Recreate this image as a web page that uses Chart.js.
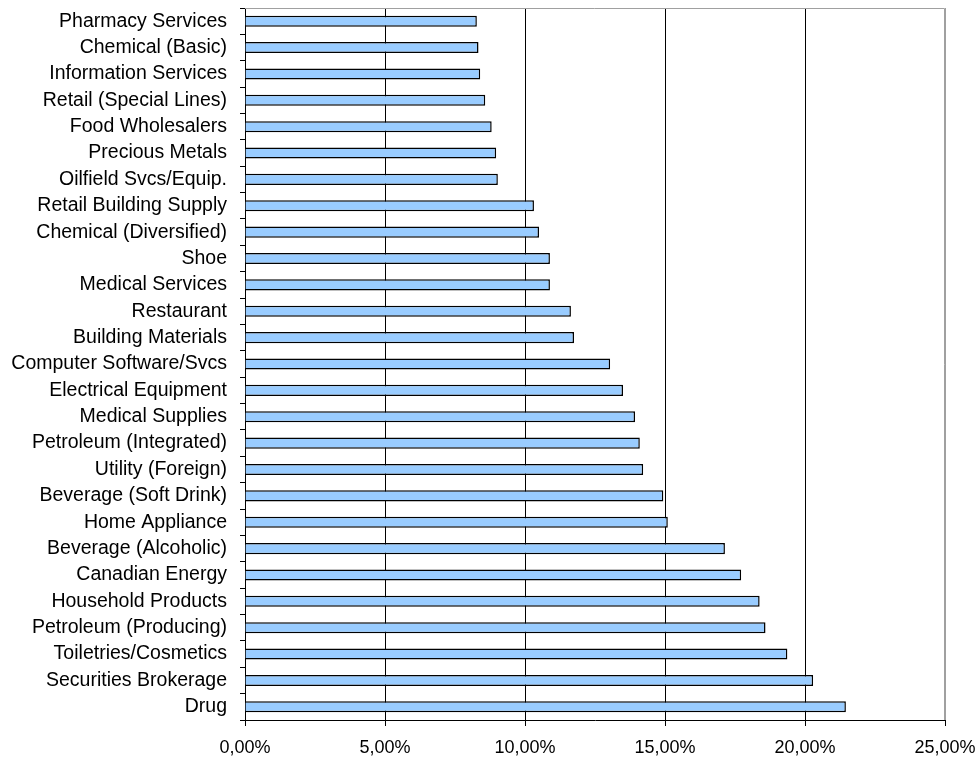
<!DOCTYPE html>
<html>
<head>
<meta charset="utf-8">
<script src="https://cdn.jsdelivr.net/npm/chart.js@4/dist/chart.umd.min.js"></script>
<style>
  html, body { margin: 0; padding: 0; background: #fff; }
  #wrap { width: 976px; height: 758px; }
</style>
</head>
<body>
<div id="wrap"><canvas id="barChart" width="976" height="758"></canvas></div>
<script>
// categorias (de cima para baixo)
var industries = [
  'Pharmacy Services', 'Chemical (Basic)', 'Information Services', 'Retail (Special Lines)',
  'Food Wholesalers', 'Precious Metals', 'Oilfield Svcs/Equip.', 'Retail Building Supply',
  'Chemical (Diversified)', 'Shoe', 'Medical Services', 'Restaurant', 'Building Materials',
  'Computer Software/Svcs', 'Electrical Equipment', 'Medical Supplies', 'Petroleum (Integrated)',
  'Utility (Foreign)', 'Beverage (Soft Drink)', 'Home Appliance', 'Beverage (Alcoholic)',
  'Canadian Energy', 'Household Products', 'Petroleum (Producing)', 'Toiletries/Cosmetics',
  'Securities Brokerage', 'Drug'
];

// valores em %
var values = [
  8.28, 8.34, 8.40, 8.58, 8.81, 8.97, 9.03, 10.32, 10.50, 10.89, 10.89, 11.64, 11.75,
  13.04, 13.50, 13.93, 14.10, 14.22, 14.94, 15.10, 17.14, 17.72, 18.38, 18.59, 19.37,
  20.29, 21.46
];

// ticks do eixo x
var xTicks = [0, 5, 10, 15, 20, 25];

// moldura da area do grafico
var frame = {
  id: 'frame',
  beforeDatasetsDraw: function (chart) {
    var a = chart.chartArea, c = chart.ctx;
    c.save();
    c.strokeStyle = '#a0a0a0';
    c.lineWidth = 1;
    c.beginPath();
    c.moveTo(a.left, a.top + 0.5);
    c.lineTo(a.right - 0.5, a.top + 0.5);
    c.lineTo(a.right - 0.5, a.bottom);
    c.stroke();
    c.restore();
  }
};

window.onload = function () {
  var ctx = document.getElementById('barChart').getContext('2d');
  new Chart(ctx, {
    type: 'bar',
    data: {
      labels: industries,
      datasets: [{
        data: values,
        backgroundColor: '#99ccff',
        borderColor: '#000000',
        borderWidth: 1.5,
        categoryPercentage: 1,
        barPercentage: 0.42
      }]
    },
    plugins: [frame],
    options: {
      indexAxis: 'y',
      responsive: false,
      animation: false,
      layout: { padding: { left: 8, right: 31, top: 8, bottom: 0 } },
      plugins: {
        legend: { display: false },
        tooltip: { enabled: false }
      },
      scales: {
        x: {
          min: xTicks[0],
          max: xTicks[xTicks.length - 1],
          afterBuildTicks: function (s) {
            s.ticks = xTicks.map(function (v) { return { value: v }; });
          },
          afterFit: function (s) { s.height = 38; s.paddingRight = 0; s.paddingLeft = 0; },
          grid: {
            color: function (c) { return c.tick && c.tick.value === 25 ? '#a0a0a0' : '#000000'; },
            lineWidth: 1, tickLength: 6, tickColor: '#000000'
          },
          border: { color: '#000000', width: 1 },
          ticks: {
            color: '#000000',
            font: { family: 'Liberation Sans', size: 18 },
            padding: 11,
            maxRotation: 0,
            callback: function (v) { return v.toFixed(2).replace('.', ',') + '%'; }
          }
        },
        y: {
          afterFit: function (s) { s.width = 237; s.paddingTop = 0; s.paddingBottom = 0; },
          grid: { offset: true, drawOnChartArea: false, tickLength: 5, color: '#000000' },
          border: { color: '#000000', width: 1 },
          ticks: {
            color: '#000000',
            font: { family: 'Liberation Sans', size: 19.5 },
            padding: 13,
            autoSkip: false
          }
        }
      }
    }
  });
};
</script>
</body>
</html>
